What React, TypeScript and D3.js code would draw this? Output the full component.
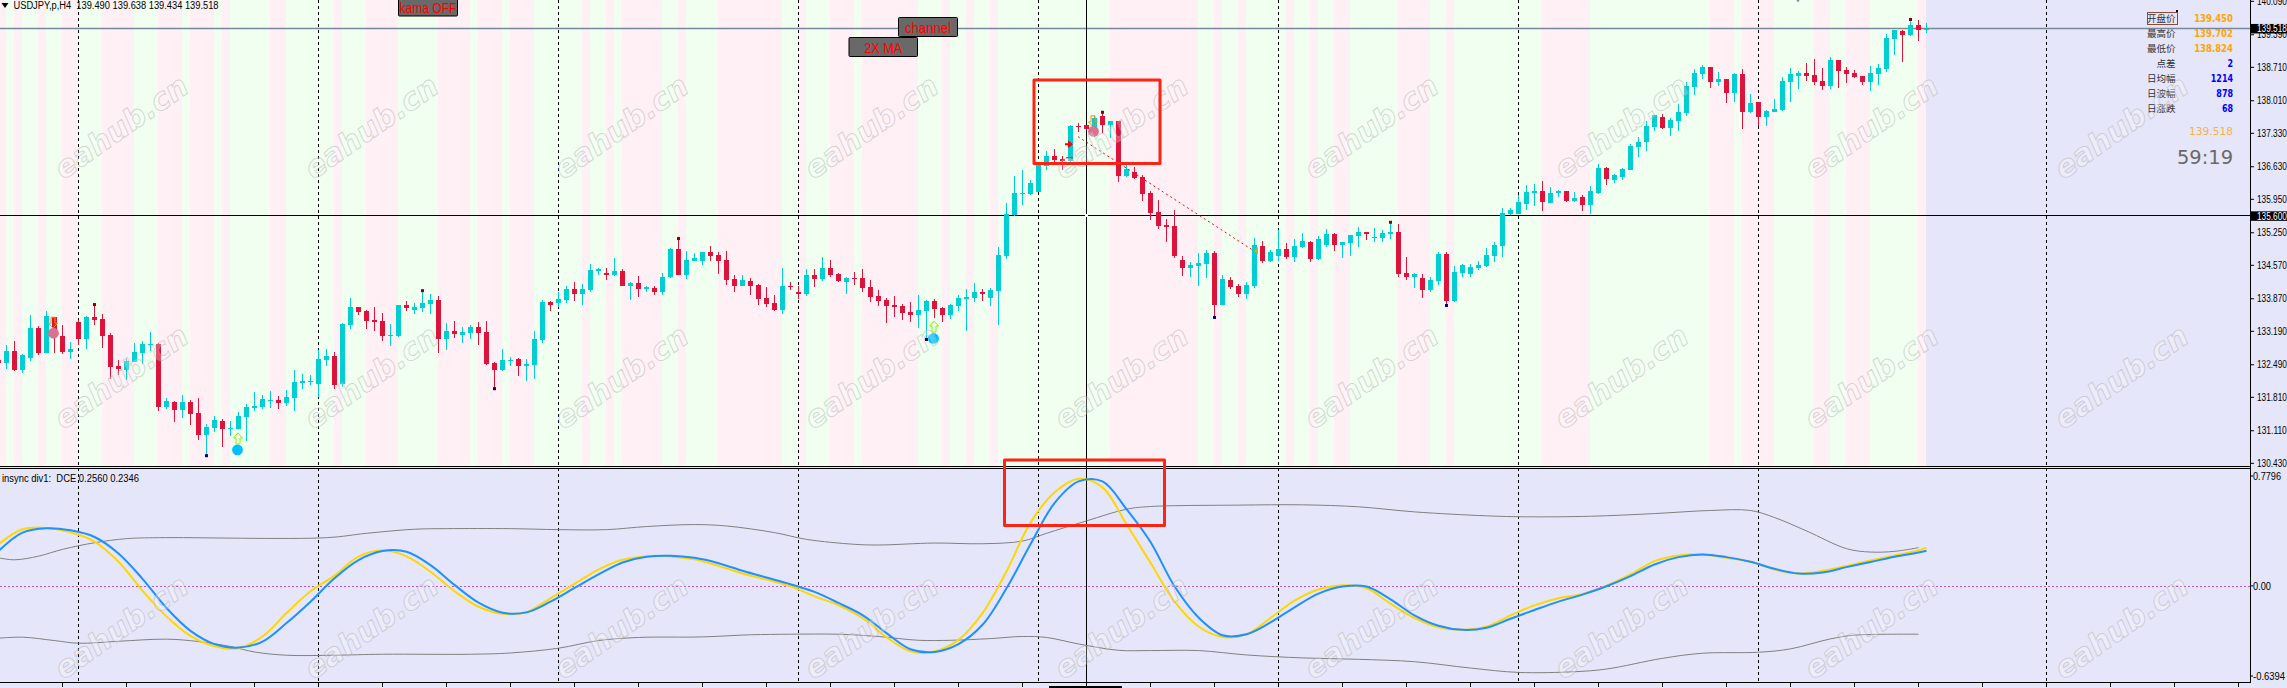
import React from 'react';
import * as d3 from 'd3';

const width = 2287;
const height = 688;

const opens = [
  132.59,132.53,132.78,132.38,132.63,133.26,132.74,133.49,133.09,132.76,
  133.38,133.03,133.49,133.45,133.11,132.46,132.38,132.55,132.74,132.90,
  132.92,131.61,131.71,131.54,131.71,131.48,131.02,131.17,131.31,131.15,
  131.15,131.40,131.59,131.61,131.73,131.75,131.69,131.80,132.11,132.13,
  132.09,132.59,132.67,132.09,133.32,133.70,133.61,133.43,133.41,133.09,
  133.09,133.74,133.64,133.68,133.76,133.84,133.03,133.20,133.11,133.15,
  133.28,133.18,132.53,132.38,132.57,132.61,132.46,132.48,133.01,133.80,
  133.78,133.84,134.07,133.97,134.05,134.45,134.41,134.37,134.45,134.14,
  134.20,134.07,134.10,134.01,134.33,134.91,134.37,134.66,134.66,134.85,
  134.79,134.68,134.28,134.14,134.24,134.16,133.89,133.78,133.64,134.14,
  134.01,133.97,134.37,134.28,134.51,134.39,134.22,134.30,134.30,134.12,
  133.93,133.84,133.74,133.72,133.59,133.53,133.61,133.82,133.68,133.53,
  133.72,133.87,133.89,134.01,133.89,134.03,134.76,135.62,136.06,136.06,
  136.10,136.65,136.85,136.79,136.75,137.48,137.50,137.47,137.69,137.50,
  137.59,136.44,136.52,136.42,136.08,135.68,135.41,135.39,134.68,134.51,
  134.56,134.60,134.83,133.74,134.26,134.14,133.97,134.14,134.97,134.66,
  134.76,134.91,134.74,134.95,135.06,134.70,134.99,135.22,134.99,135.04,
  135.18,135.27,135.14,135.14,135.22,135.27,134.41,134.33,134.30,134.05,
  134.24,134.81,133.82,134.41,134.39,134.51,134.55,134.76,134.97,135.64,
  135.64,135.85,136.08,136.12,135.87,136.08,136.12,135.91,136.00,135.83,
  136.08,136.60,136.35,136.42,136.56,137.04,137.15,137.46,137.67,137.44,
  137.59,137.75,138.30,138.57,138.72,138.40,138.46,138.17,138.57,137.77,
  137.98,137.67,137.77,137.82,138.40,138.53,138.59,138.55,138.42,138.32,
  138.86,138.65,138.59,138.53,138.40,138.57,138.67,139.30,139.47,139.38,
  139.59,139.49,
];
const highs = [
  132.59,132.90,132.99,132.72,133.53,133.30,133.61,133.49,133.32,132.97,
  133.43,133.51,133.76,133.55,133.15,132.59,132.61,132.95,132.99,133.18,
  132.95,131.80,131.73,131.86,131.75,131.80,131.25,131.42,131.36,131.31,
  131.50,131.67,131.92,131.86,131.94,131.84,131.96,132.38,132.30,132.28,
  132.80,132.82,132.76,133.36,133.89,133.70,133.64,133.70,133.57,133.34,
  133.74,133.82,133.78,134.05,133.97,133.93,133.36,133.41,133.28,133.32,
  133.38,133.41,132.55,132.82,132.65,132.63,132.61,133.20,133.84,133.82,
  134.01,134.14,134.22,134.18,134.60,134.51,134.51,134.72,134.49,134.22,
  134.35,134.14,134.14,134.41,134.93,135.14,134.87,134.83,134.85,134.97,
  134.85,134.87,134.37,134.37,134.30,134.18,134.12,133.95,134.51,134.22,
  134.14,134.49,134.49,134.74,134.68,134.41,134.33,134.43,134.49,134.26,
  134.05,133.89,133.93,133.76,133.80,133.95,133.84,133.87,133.70,133.76,
  133.95,134.07,134.20,134.07,134.10,134.95,135.87,136.44,136.56,136.35,
  136.74,136.96,137.00,136.85,137.50,137.55,137.50,137.69,137.78,137.59,
  137.59,136.67,136.63,136.46,136.12,135.94,135.54,135.73,134.76,134.64,
  134.83,134.89,134.87,134.37,134.33,134.18,134.22,135.14,135.08,134.89,
  135.31,135.04,135.12,135.25,135.08,135.18,135.33,135.25,135.06,135.20,
  135.37,135.27,135.35,135.31,135.48,135.43,134.74,134.41,134.39,134.33,
  134.85,134.85,134.56,134.60,134.60,134.66,134.93,135.06,135.77,135.77,
  136.04,136.25,136.27,136.33,136.21,136.14,136.12,136.10,136.04,136.23,
  136.69,136.62,136.48,136.60,137.11,137.25,137.59,137.71,137.73,137.65,
  137.94,138.40,138.67,138.76,138.72,138.61,138.46,138.59,138.67,138.15,
  137.98,137.82,138.05,138.51,138.69,138.63,138.80,138.88,138.69,138.92,
  138.86,138.72,138.65,138.53,138.74,138.78,139.41,139.49,139.49,139.72,
  139.70,139.638,
];
const lows = [
  132.53,132.40,132.36,132.32,132.57,132.69,132.74,132.74,132.72,132.61,
  132.90,132.82,133.32,132.84,132.19,132.28,132.17,132.55,132.51,132.78,
  131.52,131.56,131.29,131.38,131.23,130.92,130.60,131.08,130.77,131.00,
  131.15,130.90,131.52,131.56,131.59,131.56,131.63,131.52,131.98,132.07,
  131.82,132.46,131.98,132.03,133.24,133.53,133.24,133.20,132.99,132.88,
  133.07,133.61,133.55,133.59,133.55,132.74,132.80,133.05,132.95,133.03,
  132.90,132.49,132.00,132.36,132.46,132.26,132.15,132.19,132.95,133.61,
  133.70,133.78,133.82,133.74,134.01,134.37,134.26,134.35,134.14,133.84,
  133.91,134.01,133.95,133.95,134.30,134.37,134.28,134.66,134.58,134.66,
  134.39,134.16,134.01,134.14,133.95,133.74,133.70,133.61,133.55,134.05,
  133.87,133.93,134.12,134.24,134.33,134.22,133.97,134.16,134.01,133.80,
  133.72,133.36,133.49,133.43,133.38,133.26,133.03,133.47,133.38,133.45,
  133.61,133.20,133.80,133.82,133.72,133.32,134.70,135.60,135.83,136.04,
  136.10,136.56,136.71,136.56,136.73,137.36,137.40,137.26,137.34,137.23,
  136.31,136.42,136.38,135.91,135.52,135.33,135.06,134.72,134.35,134.33,
  134.14,134.30,133.49,133.74,134.07,133.91,133.87,134.09,134.62,134.64,
  134.66,134.70,134.64,134.93,134.64,134.68,134.95,134.87,134.72,134.76,
  134.95,135.10,135.06,135.06,135.12,134.33,134.26,134.09,133.89,134.01,
  134.16,133.74,133.80,134.33,134.33,134.47,134.53,134.64,134.74,135.62,
  135.64,135.73,135.81,135.70,135.87,136.00,135.89,135.89,135.70,135.64,
  136.06,136.25,136.29,136.35,136.56,136.83,136.96,137.38,137.42,137.27,
  137.38,137.69,138.13,138.46,138.28,138.32,137.96,137.98,137.42,137.75,
  137.48,137.48,137.77,137.80,137.98,138.25,138.42,138.34,138.23,138.25,
  138.28,138.38,138.49,138.34,138.21,138.34,138.61,138.97,138.82,139.36,
  139.26,139.434,
];
const closes = [
  132.53,132.78,132.38,132.69,133.26,132.74,133.51,133.22,132.76,132.82,
  133.03,133.49,133.43,133.09,132.44,132.40,132.57,132.76,132.92,132.92,
  131.61,131.73,131.54,131.71,131.46,131.02,131.19,131.34,131.15,131.17,
  131.42,131.61,131.63,131.77,131.75,131.69,131.82,132.13,132.15,132.15,
  132.61,132.67,132.07,133.34,133.70,133.59,133.41,133.38,133.09,133.11,
  133.74,133.68,133.70,133.78,133.84,133.03,133.20,133.13,133.18,133.28,
  133.15,132.51,132.38,132.59,132.59,132.46,132.51,133.03,133.80,133.74,
  133.87,134.07,133.97,134.07,134.47,134.49,134.37,134.45,134.14,134.20,
  134.07,134.12,134.01,134.33,134.91,134.37,134.68,134.72,134.85,134.76,
  134.66,134.26,134.14,134.26,134.14,133.87,133.76,133.64,134.14,134.12,
  133.97,134.37,134.28,134.51,134.37,134.24,134.30,134.28,134.10,133.91,
  133.82,133.72,133.70,133.57,133.53,133.64,133.82,133.66,133.53,133.74,
  133.89,133.91,134.01,133.97,134.05,134.79,135.64,136.08,136.08,136.29,
  136.71,136.85,136.77,136.75,137.48,137.46,137.42,137.65,137.50,137.59,
  136.44,136.58,136.40,136.06,135.66,135.39,135.37,134.76,134.51,134.58,
  134.62,134.83,133.74,134.28,134.12,133.97,134.16,134.99,134.66,134.85,
  134.91,134.74,134.97,135.08,134.70,135.12,135.22,134.99,135.06,135.20,
  135.27,135.22,135.16,135.25,135.27,134.39,134.33,134.39,134.05,134.26,
  134.81,133.82,134.43,134.58,134.53,134.58,134.78,134.99,135.66,135.73,
  135.89,136.10,136.12,135.89,136.08,136.12,135.91,135.98,135.83,136.12,
  136.60,136.37,136.46,136.58,137.06,137.15,137.48,137.71,137.44,137.61,
  137.77,138.32,138.59,138.72,138.40,138.46,138.17,138.57,137.77,137.96,
  137.67,137.80,137.84,138.42,138.57,138.59,138.53,138.40,138.32,138.86,
  138.63,138.57,138.51,138.40,138.59,138.69,139.32,139.49,139.38,139.59,
  139.49,139.518,
];

// bar where the background band flips, pink first, then green, pink...
const bandFlips = [
  1,2,3,5,6,8,10,13,17,20,23,24,27,28,29,34,36,42,43,46,50,55,59,60,63,64,67,73,74,76,77,78,
  83,85,86,90,98,100,101,104,107,108,115,118,119,121,122,124,125,139,150,152,153,155,156,161,
  162,164,165,167,169,175,179,181,182,193,199,214,217,218,222,227,229,231,234,240,
];
const lastBand = 241;

const separatorBars = [10, 40, 70, 100, 130, 160, 190, 220, 256];
const crosshairBar = 136;
const crosshairPrice = 135.6;
const lastPrice = 139.518;

const priceTicks = [
  '140.090','139.390','138.710','138.010','137.330','136.630','135.950','135.250',
  '134.570','133.870','133.190','132.490','131.810','131.110','130.430',
];
const fractalHighs = [12, 53, 85, 138, 174, 239];
const fractalLows = [26, 62, 116, 152, 181];
const pinkDots = [{ bar: 7, price: 133.15 }, { bar: 137, price: 137.37 }];
const blueDots = [{ bar: 30, price: 130.71 }, { bar: 117, price: 133.04 }];
const upArrows = [{ bar: 30, price: 130.95 }, { bar: 117, price: 133.29 }];
const downArrows = [{ bar: 7, price: 133.37 }, { bar: 137, price: 137.58 }];
const trendBars = [135, 157];
const trendPrices = [137.26, 134.87];

const blueLine = [
  .247,.378,.409,.394,.347,.230,.050,-.157,-.319,-.413,
  -.438,-.395,-.264,-.112,.054,.183,.247,.242,.147,.007,
  -.119,-.190,-.188,-.112,-.015,.081,.166,.207,.214,.199,
  .161,.107,.059,.012,-.043,-.121,-.207,-.335,-.450,-.469,
  -.413,-.276,-.017,.295,.587,.741,.741,.544,.311,-.003,
  -.224,-.350,-.343,-.259,-.152,-.055,-.005,-.005,-.095,-.209,
  -.283,-.312,-.297,-.233,-.171,-.112,-.062,-.003,.069,.152,
  .204,.223,.204,.171,.121,.088,.095,.133,.169,.207,
  .237,.249,
];
const yellowLine = [
  .295,.402,.411,.380,.314,.171,-.034,-.217,-.355,-.428,
  -.442,-.359,-.193,-.038,.073,.207,.252,.209,.100,-.038,
  -.148,-.198,-.186,-.088,.014,.116,.185,.209,.209,.188,
  .142,.088,.045,-.003,-.074,-.138,-.228,-.364,-.464,-.466,
  -.383,-.193,.104,.449,.663,.760,.699,.437,.164,-.110,
  -.288,-.362,-.343,-.228,-.105,-.026,.005,-.017,-.126,-.228,
  -.293,-.312,-.288,-.209,-.138,-.088,-.057,.002,.081,.176,
  .216,.223,.199,.171,.116,.088,.107,.142,.180,.216,
  .252,.271,
];
const upperBars = [0,2,5,8,12,16,20,41,46,52,56,64,70,76,81,87,91,97,101,107,110,117,123,128,131,136,141,144,155,163,170,177,186,191,199,207,214,219,222,226,231,234,237,240];
const upperBand = [.199,.185,.211,.259,.306,.335,.342,.342,.373,.402,.406,.406,.399,.399,.421,.435,.425,.378,.330,.295,.290,.304,.299,.318,.373,.461,.544,.563,.573,.575,.561,.525,.497,.490,.494,.513,.535,.535,.485,.390,.264,.240,.245,.271];
const lowerBars = [0,3,7,10,15,21,25,29,32,36,42,48,59,64,70,75,80,88,94,99,105,110,115,119,124,128,131,135,140,144,150,156,163,170,177,184,190,197,201,208,213,220,224,229,232,240];
const lowerBand = [-.371,-.364,-.388,-.407,-.393,-.378,-.395,-.430,-.469,-.492,-.492,-.485,-.485,-.476,-.442,-.388,-.366,-.362,-.347,-.343,-.343,-.359,-.386,-.386,-.374,-.359,-.366,-.412,-.457,-.459,-.459,-.490,-.511,-.521,-.538,-.583,-.614,-.609,-.590,-.514,-.478,-.471,-.447,-.376,-.350,-.343];

const infoLabels = ['开盘价', '最高价', '最低价', '点差', '日均幅', '日波幅', '日涨跌'];
const infoValues = ['139.450', '139.702', '138.824', '2', '1214', '878', '68'];
const infoColors = ['#FFA500', '#FFA500', '#FFA500', '#0000FF', '#0000FF', '#0000FF', '#0000FF'];

const sans = '"Liberation Sans", sans-serif';
const wide = '"DejaVu Sans", sans-serif';

const x = d3.scaleLinear().domain([0, 241]).range([-2, 1926]);
const y = d3.scaleLinear().domain([130.43, 138.71]).range([463.3, 67.3]);
const yOsc = d3.scaleLinear().domain([-0.6394, 0.7796]).range([676, 476]);

const oscBars = [...d3.range(0, 241, 3), 241];
const oscPath = (bars: number[], values: number[]) =>
  d3.line<number>()
    .x((_, i) => x(bars[i]) + 0.5)
    .y(d => yOsc(d))
    .curve(d3.curveCatmullRom.alpha(0.5))(values) as string;

const bandEdges = [0, ...bandFlips, lastBand];
const upArrow = 'M0,-5.5L4.5,-0.5L2,-0.5L2,5.5L-2,5.5L-2,-0.5L-4.5,-0.5Z';
const downArrow = 'M0,5.5L4.5,0.5L2,0.5L2,-5.5L-2,-5.5L-2,0.5L-4.5,0.5Z';

const Button = ({ x0, y0, w, h, label, tw }: any) => (
  <g>
    <rect x={x0} y={y0} width={w} height={h} fill="#696969" stroke="#000" rx={1} />
    <text x={x0 + w / 2} y={y0 + h / 2 + 5.5} textAnchor="middle" fill="#FF0000" fontFamily={sans}
      fontSize={15} textLength={tw} lengthAdjust="spacingAndGlyphs">{label}</text>
  </g>
);

const App = () => {
  const marks = opens.map((o, i) => ({
    cx: Math.round(x(i)),
    top: Math.round(y(Math.max(o, closes[i]))),
    bottom: Math.round(y(Math.min(o, closes[i]))),
    hi: Math.round(y(highs[i])),
    lo: Math.round(y(lows[i])),
    up: closes[i] >= o,
  }));

  return (
    <svg width={width} height={height} style={{ position: 'fixed', left: 0, top: 0, display: 'block' }}>
      <rect width={width} height={height} fill="#E6E6FA" />

      {bandEdges.slice(0, -1).map((b, i) => (
        <rect key={i} x={x(b)} y={0} width={x(bandEdges[i + 1]) - x(b)} height={466}
          fill={i % 2 === 0 ? '#FFF0F5' : '#F0FFF0'} />
      ))}

      {separatorBars.map(b => (
        <line key={b} x1={x(b) + 0.5} x2={x(b) + 0.5} y1={0} y2={682} stroke="#000"
          strokeDasharray="3,3" shapeRendering="crispEdges" />
      ))}

      <line x1={0} x2={2250} y1={Math.floor(y(lastPrice)) + 0.5} y2={Math.floor(y(lastPrice)) + 0.5}
        stroke="#778899" strokeWidth={1.3} />
      <line x1={0} x2={2250} y1={215.5} y2={215.5} stroke="#000" shapeRendering="crispEdges" />
      <line x1={x(crosshairBar) + 0.5} x2={x(crosshairBar) + 0.5} y1={0} y2={688} stroke="#000"
        shapeRendering="crispEdges" />
      <rect x={x(crosshairBar) - 1} y={214} width={3} height={3} fill="#fff" />

      <g shapeRendering="crispEdges">
        {marks.map((m, i) => {
          const color = m.up ? '#00CED1' : '#DC143C';
          return (
            <g key={i}>
              <rect x={m.cx} y={m.hi} width={1} height={Math.max(1, m.lo - m.hi)} fill={color} />
              <rect x={m.cx - 2} y={m.top} width={5} height={Math.max(1, m.bottom - m.top)} fill={color} />
            </g>
          );
        })}
      </g>

      {fractalHighs.map(b => (
        <rect key={b} x={x(b) - 1} y={y(highs[b]) - 1} width={3} height={3} fill="#8B0000" />
      ))}
      {fractalLows.map(b => (
        <rect key={b} x={x(b) - 1} y={y(lows[b]) - 1} width={3} height={3} fill="#000080" />
      ))}

      <line x1={x(trendBars[0])} x2={x(trendBars[1])} y1={y(trendPrices[0])} y2={y(trendPrices[1])}
        stroke="#FF0000" strokeDasharray="2,3" />
      <path d="M-2,0L2,-4L2,4Z" transform={`translate(${x(trendBars[1]) + 2},${y(trendPrices[1])})`} fill="#DAA520" />
      <path d="M-4,-1h3v-3l5,4l-5,4v-3h-3z" transform={`translate(${x(134) - 1},${y(137.1)})`} fill="#FF0000" />
      <rect x={x(134) - 4} y={y(136.83)} width={7} height={1} fill="#FF0000" />

      {downArrows.map(d => (
        <path key={d.bar} d={downArrow} transform={`translate(${x(d.bar) - 1},${y(d.price)})`}
          fill="none" stroke="#FF8C00" />
      ))}
      {upArrows.map(d => (
        <path key={d.bar} d={upArrow} transform={`translate(${x(d.bar)},${y(d.price)})`}
          fill="#FFFFE0" fillOpacity={0.5} stroke="#7CFC00" />
      ))}
      {pinkDots.map(d => (
        <circle key={d.bar} cx={x(d.bar) - 0.5} cy={y(d.price)} r={5.4} fill="#DB7093" />
      ))}
      {blueDots.map(d => (
        <circle key={d.bar} cx={x(d.bar) - 0.5} cy={y(d.price)} r={5.4} fill="#00BFFF" />
      ))}
      <path d="M-1.5,0L1.5,0L0,2.5Z" transform={`translate(${x(225)},0)`} fill="#778899" />

      <line x1={0} x2={2250} y1={586.5} y2={586.5} stroke="#BA55D3" strokeDasharray="2,2" shapeRendering="crispEdges" />
      <path d={oscPath(upperBars, upperBand)} fill="none" stroke="#808080" />
      <path d={oscPath(lowerBars, lowerBand)} fill="none" stroke="#808080" />
      <path d={oscPath(oscBars, yellowLine)} fill="none" stroke="#FFD700" strokeWidth={2} />
      <path d={oscPath(oscBars, blueLine)} fill="none" stroke="#1E90FF" strokeWidth={2} />

      <g shapeRendering="crispEdges">
        <line x1={0} x2={2250} y1={466.5} y2={466.5} stroke="#000" />
        <line x1={0} x2={2250} y1={468.5} y2={468.5} stroke="#000" />
        <line x1={0} x2={2250} y1={682.5} y2={682.5} stroke="#000" />
        <line x1={2250.5} x2={2250.5} y1={0} y2={683} stroke="#000" />
        {d3.range(62, 2250, 64).map(t => (
          <line key={t} x1={t + 0.5} x2={t + 0.5} y1={683} y2={687} stroke="#000" />
        ))}
        <rect x={1049} y={686} width={73} height={2} fill="#000" />
      </g>

      {priceTicks.map(t => {
        const py = y(+t);
        return (
          <g key={t}>
            <line x1={2251} x2={2254} y1={py} y2={py} stroke="#000" />
            <text x={2257} y={py + 3.7} fontFamily={sans} fontSize={10} fill="#000"
              textLength={29.8} lengthAdjust="spacingAndGlyphs">{t}</text>
          </g>
        );
      })}
      {[{ p: lastPrice, s: '139.518' }, { p: crosshairPrice, s: '135.600' }].map(d => (
        <g key={d.s}>
          <rect x={2251} y={y(d.p) - 4.7} width={36} height={9.5} fill="#000" />
          <text x={2257} y={y(d.p) + 3.7} fontFamily={sans} fontSize={10} fill="#fff"
            textLength={29.8} lengthAdjust="spacingAndGlyphs">{d.s}</text>
        </g>
      ))}

      {[{ v: '0.7796', p: 0.7796, w: 28 }, { v: '0.00', p: 0, w: 18 }, { v: '-0.6394', p: -0.6394, w: 32 }].map(d => (
        <g key={d.v}>
          <line x1={2251} x2={2253} y1={yOsc(d.p)} y2={yOsc(d.p)} stroke="#000" />
          <text x={2253} y={yOsc(d.p) + 3.7} fontFamily={sans} fontSize={10} fill="#000"
            textLength={d.w} lengthAdjust="spacingAndGlyphs">{d.v}</text>
        </g>
      ))}

      <path d="M1.5,3L8.5,3L5,8Z" fill="#000" />
      <text x={13.5} y={8.5} fontFamily={sans} fontSize={10} fill="#000" textLength={205}
        lengthAdjust="spacingAndGlyphs" xmlSpace="preserve">USDJPY,p,H4  139.490 139.638 139.434 139.518</text>
      <text x={2} y={481.5} fontFamily={sans} fontSize={10} fill="#000" textLength={137}
        lengthAdjust="spacingAndGlyphs" xmlSpace="preserve">insync div1:  DCE 0.2560 0.2346</text>

      <Button x0={398.5} y0={-2} w={59} h={18} label="kama OFF" tw={57} />
      <Button x0={898.5} y0={17.5} w={59} h={19} label="channel" tw={46} />
      <Button x0={849} y0={37.5} w={68.5} h={19} label="2X MA" tw={38} />

      {infoLabels.map((l, i) => (
        <g key={l}>
          <text x={2175.6} y={21.5 + i * 15} textAnchor="end" fontFamily='"Noto Sans CJK SC"' fontSize={9.5}
            fill="#333">{l}</text>
          <text x={2233} y={21.5 + i * 15} textAnchor="end" fontFamily={wide} fontWeight="bold" fontSize={10}
            fill={infoColors[i]} textLength={infoValues[i].length * 5.55} lengthAdjust="spacingAndGlyphs">{infoValues[i]}</text>
        </g>
      ))}
      <rect x={2147.5} y={12.5} width={30} height={12} fill="none" stroke="#8B4A3A" />
      <rect x={2176} y={10} width={2} height={2} fill="#000" />
      <text x={2233} y={135} textAnchor="end" fontFamily={wide} fontSize={11} fill="#FFA500" fillOpacity={0.8}
        textLength={44} lengthAdjust="spacingAndGlyphs">139.518</text>
      <text x={2233} y={163.5} textAnchor="end" fontFamily={wide} fontSize={20} fill="#696969"
        textLength={56} lengthAdjust="spacingAndGlyphs">59:19</text>

      {[127, 377, 627].map(cy => d3.range(121, 2287, 250).map(cx => (
        <text key={`${cx}-${cy}`} transform={`translate(${cx},${cy}) rotate(-35)`} textAnchor="middle" dy="0.35em"
          fontFamily={wide} fontStyle="italic" fontWeight="bold" fontSize={30} fill="#fff" fillOpacity={0.25}
          stroke="#a8a8a8" strokeOpacity={0.45} strokeWidth={1}>eahub.cn</text>
      )))}

      <g fill="none" stroke="#FF2314" strokeLinejoin="round">
        <rect x={1034} y={80} width={126} height={83.5} strokeWidth={3} />
        <rect x={1004.5} y={460} width={160} height={65.5} strokeWidth={3} />
      </g>
    </svg>
  );
};

export default App;
